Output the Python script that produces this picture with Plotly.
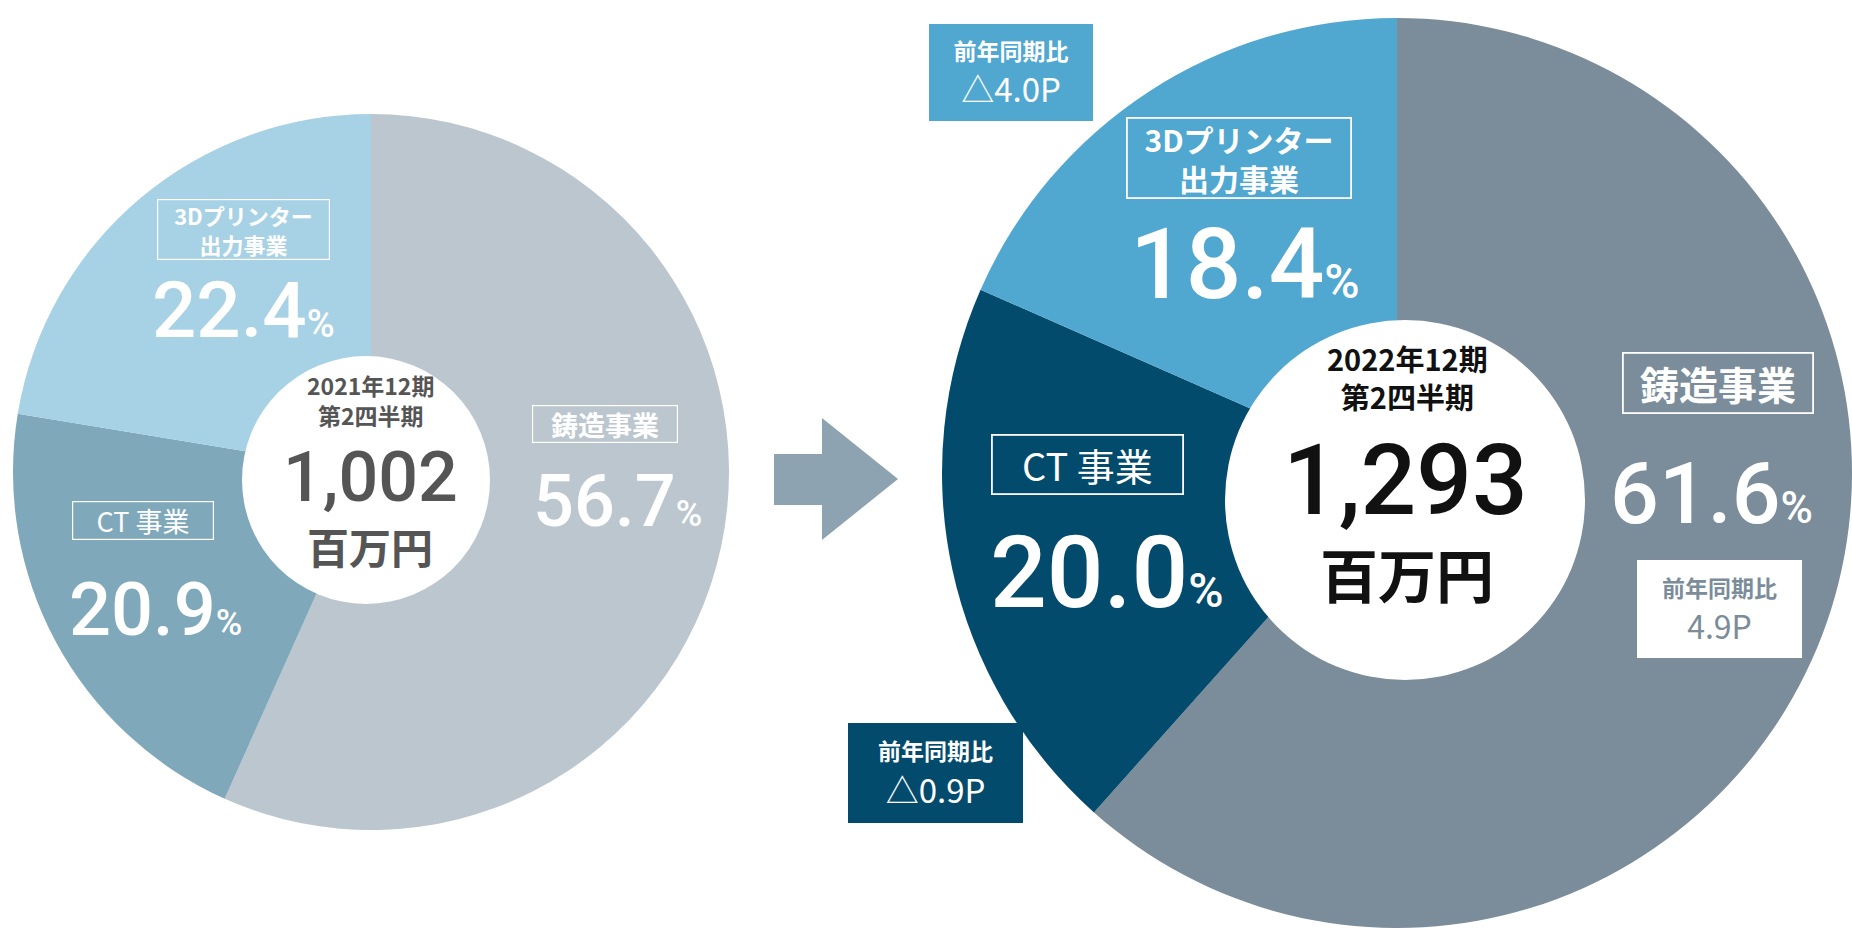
import plotly.graph_objects as go

# Canvas size in pixels
W, H = 1852, 934

# ---- data -------------------------------------------------------------
segments = ["鋳造事業", "CT 事業", "3Dプリンター<br>出力事業"]
share_2021 = [56.7, 20.9, 22.4]          # % of sales, FY2021/12 Q2
share_2022 = [61.6, 20.0, 18.4]          # % of sales, FY2022/12 Q2
yoy_2022 = ["4.9P", "△0.9P", "△4.0P"]    # change in share vs. prior year
total_2021 = 1002                        # 百万円
total_2022 = 1293                        # 百万円
period_2021 = ["2021年12期", "第2四半期"]
period_2022 = ["2022年12期", "第2四半期"]
unit = "百万円"
yoy_title = "前年同期比"

colors_2021 = ["#BBC6CE", "#7FA8BA", "#A7D1E5"]
colors_2022 = ["#7B8C9A", "#034B6C", "#50A7D0"]

FONT = "Noto Sans CJK JP"
NUM_FONT = "Roboto"


def fx(px):
    return px / W


def fy(py):
    return 1 - py / H


fig = go.Figure()

# ---- pies -------------------------------------------------------------
fig.add_trace(go.Pie(
    labels=segments, values=share_2021, sort=False, direction="clockwise",
    rotation=0, marker=dict(colors=colors_2021, line=dict(width=0)),
    textinfo="none", hoverinfo="label+percent", showlegend=False,
    domain=dict(x=[fx(13), fx(729)], y=[fy(830), fy(114)]),
))
fig.add_trace(go.Pie(
    labels=segments, values=share_2022, sort=False, direction="clockwise",
    rotation=0, marker=dict(colors=colors_2022, line=dict(width=0)),
    textinfo="none", hoverinfo="label+percent", showlegend=False,
    domain=dict(x=[fx(942), 1.0], y=[fy(928), fy(18)]),
))

shapes = []


def disc(cx, cy, r):
    shapes.append(dict(type="circle", xref="paper", yref="paper",
                       x0=fx(cx - r), x1=fx(cx + r), y0=fy(cy + r), y1=fy(cy - r),
                       fillcolor="white", line=dict(width=0), layer="above"))


disc(366, 480, 124)
disc(1405, 500, 180)

# arrow between the two pies
pts = [(774, 454), (822, 454), (822, 418), (898, 479), (822, 540), (822, 505), (774, 505)]
path = "M " + " L ".join(f"{fx(x):.5f},{fy(y):.5f}" for x, y in pts) + " Z"
shapes.append(dict(type="path", xref="paper", yref="paper", path=path,
                   fillcolor="#8EA3B1", line=dict(width=0), layer="above"))

annotations = []


def text(t, x, y, size, color, xanchor="center", weight="normal", family=FONT):
    annotations.append(dict(
        text=t, x=fx(x), y=fy(y), xref="paper", yref="paper",
        xanchor=xanchor, yanchor="middle", showarrow=False, align="center",
        font=dict(family=family, size=size, color=color, weight=weight),
    ))


def box(t, x0, y0, x1, y1, size, color, bg="rgba(0,0,0,0)", border="white",
        bw=1.5, weight="bold"):
    annotations.append(dict(
        text=t, x=fx((x0 + x1) / 2), y=fy((y0 + y1) / 2),
        xref="paper", yref="paper", xanchor="center", yanchor="middle",
        width=x1 - x0 - 2 * bw, height=y1 - y0 - 2 * bw,
        align="center", valign="middle", showarrow=False,
        bgcolor=bg, bordercolor=border, borderwidth=bw, borderpad=0,
        font=dict(family=FONT, size=size, color=color, weight=weight),
    ))


def pct(v, psize):
    return f"{v:.1f}<span style='font-size:{psize}px'>%</span>"


def yoy(v, tsize):
    return (f"<b><span style='font-size:{tsize}px'>{yoy_title}</span></b><br>"
            f"{v}")


# ---- left pie labels (2021) -------------------------------------------
box(segments[2], 157, 199, 330, 260, 22, "white", bw=1.2)
text(pct(share_2021[2], 38), 150, 310, 78, "white", xanchor="left",
     weight=500, family=NUM_FONT)
box(segments[0], 532, 405, 678, 443, 27, "white", bw=1.2)
text(pct(share_2021[0], 36), 531, 502, 72, "white", xanchor="left",
     weight=500, family=NUM_FONT)
box(segments[1], 72, 501, 214, 540, 27, "white", bw=1.2, weight="normal")
text(pct(share_2021[1], 36), 67, 609, 74, "white", xanchor="left",
     weight=500, family=NUM_FONT)

text("<br>".join(period_2021), 370, 400, 23, "#555555", weight="bold")
text(f"{total_2021:,}", 370, 477, 70, "#555555", weight=500, family=NUM_FONT)
text(unit, 370, 545, 42, "#555555", weight="bold")

# ---- right pie labels (2022) ------------------------------------------
box(yoy(yoy_2022[2], 23), 929, 24, 1093, 121, 33, "white",
    bg=colors_2022[2], border=colors_2022[2], bw=0, weight="normal")
box(segments[2], 1126, 117, 1352, 199, 30, "white", bw=1.8)
text(pct(share_2022[2], 48), 1128, 265, 98, "white", xanchor="left",
     weight=500, family=NUM_FONT)

box(segments[0], 1622, 352, 1814, 414, 39, "white", bw=1.8)
text(pct(share_2022[0], 44), 1608, 493, 86, "white", xanchor="left",
     weight=500, family=NUM_FONT)
box(yoy(yoy_2022[0], 23), 1637, 560, 1802, 658, 32, colors_2022[0],
    bg="white", border="white", bw=0, weight="normal")

box(segments[1], 991, 434, 1184, 495, 38, "white", bw=1.8, weight="normal")
text(pct(share_2022[1], 48), 988, 572, 100, "white", xanchor="left",
     weight=500, family=NUM_FONT)
box(yoy(yoy_2022[1], 23), 848, 723, 1023, 823, 33, "white",
    bg=colors_2022[1], border=colors_2022[1], bw=0, weight="normal")

text("<br>".join(period_2022), 1407, 377, 29, "#111111", weight="bold")
text(f"{total_2022:,}", 1405, 480, 98, "#111111", weight=500, family=NUM_FONT)
text(unit, 1407, 573, 58, "#111111", weight="bold")

fig.update_layout(
    width=W, height=H, autosize=False,
    margin=dict(l=0, r=0, t=0, b=0),
    paper_bgcolor="white", plot_bgcolor="white",
    shapes=shapes, annotations=annotations,
    font=dict(family=FONT),
)

fig.write_html("out.html")
